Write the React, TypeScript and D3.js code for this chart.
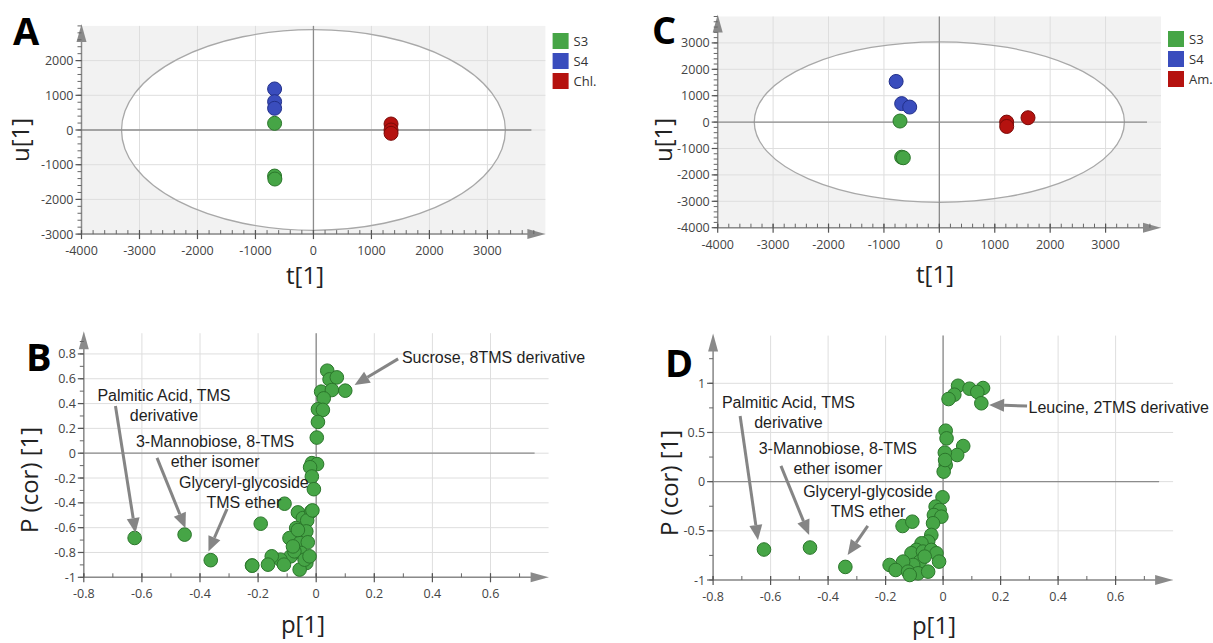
import React, { useEffect, useRef } from "react";
import * as d3 from "d3";

// ---- score plots: [t[1], u[1]] ----
const scoreA_S3 = [[-670, 192], [-670, -1327], [-665, -1413]];
const scoreA_S4 = [[-670, 1183], [-670, 817], [-670, 625]];
const scoreA_Chl = [[1338, 173], [1338, 0], [1338, -96]];

const scoreC_S3 = [[-710, 40], [-680, -1330], [-650, -1350]];
const scoreC_S4 = [[-780, 1540], [-680, 700], [-535, 570]];
const scoreC_Am = [[1215, 0], [1215, -165], [1600, 165]];

// hotelling ellipse radii [t, u]
const ellipseA = [3310, 2890];
const ellipseC = [3340, 3040];

// ---- S-plots: [p[1], P(cor)[1]] ----
const splotB = [
  [-0.625, -0.683], [-0.453, -0.656], [-0.363, -0.862], [-0.221, -0.905], [-0.191, -0.568],
  [-0.109, -0.407], [0.038, 0.665], [0.046, 0.595], [0.071, 0.611], [0.1, 0.504],
  [0.017, 0.496], [0.054, 0.509], [0.026, 0.442], [0.006, 0.354], [0.023, 0.349],
  [0.006, 0.252], [0.002, 0.126], [-0.015, -0.08], [0.003, -0.088], [-0.021, -0.113],
  [-0.015, -0.188], [-0.008, -0.29], [-0.063, -0.477], [-0.046, -0.523], [-0.017, -0.469],
  [-0.031, -0.542], [-0.013, -0.461], [-0.069, -0.603], [-0.034, -0.63], [-0.092, -0.684],
  [-0.057, -0.724], [-0.029, -0.718], [-0.034, -0.885], [-0.057, -0.938], [-0.088, -0.831],
  [-0.123, -0.858], [-0.153, -0.831], [-0.166, -0.898], [-0.111, -0.898], [-0.22, -0.906],
  [-0.052, -0.804], [-0.075, -0.791], [-0.04, -0.858], [-0.063, -0.619], [-0.08, -0.751],
  [-0.023, -0.831],
];

const splotD = [
  [-0.623, -0.69], [-0.463, -0.67], [-0.34, -0.867],
  [0.052, 0.975], [0.092, 0.945], [0.139, 0.952], [0.119, 0.912], [0.039, 0.884],
  [0.019, 0.84], [0.133, 0.797],
  [0.009, 0.518], [0.012, 0.44], [0.07, 0.362], [0.049, 0.271], [0.006, 0.295],
  [0.009, 0.169], [0.002, 0.102], [0.007, 0.22],
  [-0.002, -0.159], [-0.026, -0.254], [-0.012, -0.288], [-0.032, -0.339], [-0.006, -0.356],
  [-0.035, -0.423], [-0.141, -0.451], [-0.107, -0.407], [-0.041, -0.542], [-0.052, -0.61],
  [-0.075, -0.627], [-0.093, -0.694], [-0.11, -0.728], [-0.07, -0.711], [-0.041, -0.694],
  [-0.023, -0.728], [-0.014, -0.813], [-0.081, -0.813], [-0.104, -0.847], [-0.139, -0.813],
  [-0.186, -0.847], [-0.165, -0.898], [-0.122, -0.915], [-0.087, -0.932], [-0.052, -0.915],
  [-0.064, -0.762], [-0.116, -0.949],
];

// tick labels
const scoreTicks = [-4000, -3000, -2000, -1000, 0, 1000, 2000, 3000];
const scoreATicksY = [-3000, -2000, -1000, 0, 1000, 2000];
const splotTicksX = [-0.8, -0.6, -0.4, -0.2, 0, 0.2, 0.4, 0.6];
const splotBTicksY = [-1, -0.8, -0.6, -0.4, -0.2, 0, 0.2, 0.4, 0.6, 0.8];
const splotDTicksY = [-1, -0.5, 0, 0.5, 1];

// annotations: text anchor point + arrow tail/tip, all in data units
const notesB = [
  { lines: ["Sucrose, 8TMS derivative"], at: [0.295, 0.727], anchor: "start", from: [0.282, 0.76], to: [0.132, 0.55] },
  { lines: ["Palmitic Acid, TMS", "derivative"], at: [-0.524, 0.424], anchor: "middle", from: [-0.691, 0.381], to: [-0.622, -0.644] },
  { lines: ["3-Mannobiose, 8-TMS", "ether isomer"], at: [-0.348, 0.053], anchor: "middle", from: [-0.548, -0.038], to: [-0.45, -0.604] },
  { lines: ["Glyceryl-glycoside", "TMS ether"], at: [-0.249, -0.282], anchor: "middle", from: [-0.307, -0.448], to: [-0.371, -0.792] },
];
const notesD = [
  { lines: ["Leucine, 2TMS derivative"], at: [0.297, 0.695], anchor: "start", from: [0.292, 0.77], to: [0.16, 0.78] },
  { lines: ["Palmitic Acid, TMS", "derivative"], at: [-0.538, 0.746], anchor: "middle", from: [-0.706, 0.668], to: [-0.644, -0.593] },
  { lines: ["3-Mannobiose, 8-TMS", "ether isomer"], at: [-0.366, 0.282], anchor: "middle", from: [-0.564, 0.16], to: [-0.466, -0.542] },
  { lines: ["Glyceryl-glycoside", "TMS ether"], at: [-0.261, -0.153], anchor: "middle", from: [-0.262, -0.45], to: [-0.332, -0.745] },
];

const GREEN = { fill: "#46a546", stroke: "#2b762b" };
const BLUE = { fill: "#3a4dbd", stroke: "#22308a" };
const RED = { fill: "#b5120f", stroke: "#7a0a08" };
const TICK_FONT = "'Open Sans', sans-serif";
const NOTE_FONT = "'Liberation Sans', Arial, sans-serif";

const drawPanel = (svg, p) => {
  const { box } = p;
  const x = d3.scaleLinear().domain(p.xDomain).range([box.left, box.right]);
  const y = d3.scaleLinear().domain(p.yDomain).range([box.bottom, box.top]);
  const g = svg.append("g");

  if (p.ellipse) {
    g.append("rect")
      .attr("x", box.left).attr("y", box.top)
      .attr("width", box.right - box.left).attr("height", box.bottom - box.top)
      .attr("fill", "#f2f2f2");
    g.append("ellipse")
      .attr("cx", x(0)).attr("cy", y(0))
      .attr("rx", x(p.ellipse[0]) - x(0)).attr("ry", y(0) - y(p.ellipse[1]))
      .attr("fill", "#fff");
  }

  // grid
  g.selectAll(".gx").data(p.gridX).join("line")
    .attr("x1", (d) => x(d)).attr("x2", (d) => x(d))
    .attr("y1", box.top).attr("y2", box.bottom)
    .attr("stroke", "#dedede").attr("stroke-width", 1);
  g.selectAll(".gy").data(p.gridY).join("line")
    .attr("x1", box.left).attr("x2", box.right)
    .attr("y1", (d) => y(d)).attr("y2", (d) => y(d))
    .attr("stroke", "#dedede").attr("stroke-width", 1);

  if (p.ellipse) {
    g.append("ellipse")
      .attr("cx", x(0)).attr("cy", y(0))
      .attr("rx", x(p.ellipse[0]) - x(0)).attr("ry", y(0) - y(p.ellipse[1]))
      .attr("fill", "none").attr("stroke", "#a8a8a8").attr("stroke-width", 1.3);
  }

  // zero lines
  g.append("line").attr("x1", box.left).attr("x2", box.right - 14)
    .attr("y1", y(0)).attr("y2", y(0)).attr("stroke", "#8c8c8c").attr("stroke-width", 1.3);
  g.append("line").attr("x1", x(0)).attr("x2", x(0))
    .attr("y1", box.top).attr("y2", box.bottom).attr("stroke", "#8c8c8c").attr("stroke-width", 1.3);

  // axes
  const axisCol = "#8a8a8a";
  g.append("line").attr("x1", box.left).attr("x2", box.right - 14)
    .attr("y1", box.bottom).attr("y2", box.bottom).attr("stroke", axisCol).attr("stroke-width", 1.5);
  g.append("path")
    .attr("d", `M${box.right},${box.bottom}L${box.right - 18},${box.bottom - 5}L${box.right - 18},${box.bottom + 5}Z`)
    .attr("fill", axisCol);
  g.append("line").attr("x1", box.left).attr("x2", box.left)
    .attr("y1", box.bottom).attr("y2", box.top + 14).attr("stroke", axisCol).attr("stroke-width", 1.5);
  g.append("path")
    .attr("d", `M${box.left},${box.top - 2}L${box.left - 5},${box.top + 16}L${box.left + 5},${box.top + 16}Z`)
    .attr("fill", axisCol);

  // minor ticks
  g.selectAll(".mx").data(p.minorX).join("line")
    .attr("x1", (d) => x(d)).attr("x2", (d) => x(d))
    .attr("y1", box.bottom).attr("y2", box.bottom - 4)
    .attr("stroke", "#666").attr("stroke-width", 1);
  g.selectAll(".my").data(p.minorY).join("line")
    .attr("x1", box.left).attr("x2", box.left - 4)
    .attr("y1", (d) => y(d)).attr("y2", (d) => y(d))
    .attr("stroke", "#666").attr("stroke-width", 1);
  // major ticks
  g.selectAll(".tx").data(p.ticksX).join("line")
    .attr("x1", (d) => x(d)).attr("x2", (d) => x(d))
    .attr("y1", box.bottom - 4).attr("y2", box.bottom + 5)
    .attr("stroke", "#555").attr("stroke-width", 1.2);
  g.selectAll(".ty").data(p.ticksY).join("line")
    .attr("x1", box.left - 6).attr("x2", box.left)
    .attr("y1", (d) => y(d)).attr("y2", (d) => y(d))
    .attr("stroke", "#555").attr("stroke-width", 1.2);

  g.selectAll(".lx").data(p.ticksX).join("text")
    .attr("x", (d) => x(d)).attr("y", box.bottom + 21)
    .attr("text-anchor", "middle").attr("font-family", TICK_FONT).attr("font-size", 12.5)
    .attr("fill", "#444").text((d) => String(d));
  g.selectAll(".ly").data(p.ticksY).join("text")
    .attr("x", box.left - 8).attr("y", (d) => y(d) + 4.5)
    .attr("text-anchor", "end").attr("font-family", TICK_FONT).attr("font-size", 12.5)
    .attr("fill", "#444").text((d) => String(d));

  // points
  p.series.forEach((s) => {
    g.append("g").selectAll("circle").data(s.data).join("circle")
      .attr("cx", (d) => x(d[0])).attr("cy", (d) => y(d[1])).attr("r", p.r)
      .attr("fill", s.color.fill).attr("stroke", s.color.stroke).attr("stroke-width", 1);
  });

  // annotations
  (p.notes || []).forEach((n) => {
    const x1 = x(n.from[0]), y1 = y(n.from[1]), x2 = x(n.to[0]), y2 = y(n.to[1]);
    const ang = Math.atan2(y2 - y1, x2 - x1);
    const hl = 15, hw = 6.5;
    const bx = x2 - hl * Math.cos(ang), by = y2 - hl * Math.sin(ang);
    g.append("line").attr("x1", x1).attr("y1", y1).attr("x2", bx).attr("y2", by)
      .attr("stroke", "#858585").attr("stroke-width", 3);
    g.append("path")
      .attr("d", `M${x2},${y2}L${bx + hw * Math.sin(ang)},${by - hw * Math.cos(ang)}L${bx - hw * Math.sin(ang)},${by + hw * Math.cos(ang)}Z`)
      .attr("fill", "#858585");
    n.lines.forEach((line, i) => {
      g.append("text").attr("x", x(n.at[0])).attr("y", y(n.at[1]) + i * 20)
        .attr("text-anchor", n.anchor).attr("font-family", NOTE_FONT).attr("font-size", 16)
        .attr("fill", "#1e1e1e").text(line);
    });
  });

  // legend
  if (p.legend) {
    p.legend.items.forEach((it, i) => {
      const ly = p.legend.y + i * 20;
      g.append("rect").attr("x", p.legend.x).attr("y", ly).attr("width", 16).attr("height", 16)
        .attr("fill", it.color.fill);
      g.append("text").attr("x", p.legend.x + 21).attr("y", ly + 13)
        .attr("font-family", TICK_FONT).attr("font-size", 13).attr("fill", "#333").text(it.label);
    });
  }

  // titles
  g.append("text").attr("x", p.title.x).attr("y", p.title.y)
    .attr("font-family", "'Open Sans', sans-serif").attr("font-weight", 700).attr("font-size", 38)
    .attr("fill", "#000").text(p.title.text);
  g.append("text").attr("x", p.xLabel.x).attr("y", p.xLabel.y).attr("text-anchor", "middle")
    .attr("font-family", TICK_FONT).attr("font-size", 24).attr("fill", "#222").text(p.xLabel.text);
  g.append("text")
    .attr("transform", `translate(${p.yLabel.x},${p.yLabel.y}) rotate(-90)`)
    .attr("text-anchor", "middle")
    .attr("font-family", TICK_FONT).attr("font-size", p.yLabel.size).attr("fill", "#222").text(p.yLabel.text);
};

const steps = (a, b, s) => d3.range(Math.round((b - a) / s) + 1).map((i) => +(a + i * s).toFixed(4));

export default function App() {
  const ref = useRef(null);

  useEffect(() => {
    const svg = d3.select(ref.current);
    svg.selectAll("*").remove();

    drawPanel(svg, {
      box: { left: 81.5, right: 545.4, top: 25.9, bottom: 234.1 },
      xDomain: [-4000, 4000], yDomain: [-3000, 3000],
      ellipse: ellipseA, r: 7,
      gridX: scoreTicks, gridY: scoreATicksY,
      ticksX: scoreTicks, ticksY: scoreATicksY,
      minorX: steps(-4000, 3800, 200), minorY: steps(-3000, 3000, 200),
      series: [{ data: scoreA_S4, color: BLUE }, { data: scoreA_S3, color: GREEN }, { data: scoreA_Chl, color: RED }],
      legend: { x: 552.6, y: 33, items: [{ label: "S3", color: GREEN }, { label: "S4", color: BLUE }, { label: "Chl.", color: RED }] },
      title: { text: "A", x: 13, y: 45 },
      xLabel: { text: "t[1]", x: 305, y: 284 },
      yLabel: { text: "u[1]", x: 29, y: 140, size: 24 },
    });

    drawPanel(svg, {
      box: { left: 717.7, right: 1161, top: 16.5, bottom: 227.7 },
      xDomain: [-4000, 4000], yDomain: [-4000, 4000],
      ellipse: ellipseC, r: 7,
      gridX: scoreTicks, gridY: scoreTicks,
      ticksX: scoreTicks, ticksY: scoreTicks,
      minorX: steps(-4000, 3800, 200), minorY: steps(-4000, 4000, 200),
      series: [{ data: scoreC_S4, color: BLUE }, { data: scoreC_S3, color: GREEN }, { data: scoreC_Am, color: RED }],
      legend: { x: 1168, y: 31, items: [{ label: "S3", color: GREEN }, { label: "S4", color: BLUE }, { label: "Am.", color: RED }] },
      title: { text: "C", x: 652, y: 44 },
      xLabel: { text: "t[1]", x: 935, y: 283 },
      yLabel: { text: "u[1]", x: 672, y: 140, size: 24 },
    });

    drawPanel(svg, {
      box: { left: 83.8, right: 548.6, top: 333.2, bottom: 577.3 },
      xDomain: [-0.8, 0.8], yDomain: [-1, 0.967],
      r: 6.8,
      gridX: splotTicksX, gridY: splotBTicksY,
      ticksX: splotTicksX, ticksY: splotBTicksY,
      minorX: steps(-0.8, 0.7, 0.1), minorY: steps(-1, 0.9, 0.1),
      series: [{ data: splotB, color: GREEN }],
      notes: notesB,
      title: { text: "B", x: 26, y: 371 },
      xLabel: { text: "p[1]", x: 303, y: 633 },
      yLabel: { text: "P (cor) [1]", x: 38, y: 480, size: 24 },
    });

    drawPanel(svg, {
      box: { left: 713.1, right: 1173.1, top: 335.6, bottom: 580 },
      xDomain: [-0.8, 0.8], yDomain: [-1, 1.485],
      r: 6.8,
      gridX: splotTicksX, gridY: splotDTicksY,
      ticksX: splotTicksX, ticksY: splotDTicksY,
      minorX: steps(-0.8, 0.7, 0.1), minorY: steps(-1, 1.25, 0.25),
      series: [{ data: splotD, color: GREEN }],
      notes: notesD,
      title: { text: "D", x: 665, y: 377 },
      xLabel: { text: "p[1]", x: 934, y: 634 },
      yLabel: { text: "P (cor) [1]", x: 678, y: 483, size: 24 },
    });
  }, []);

  return (
    <div style={{ position: "fixed", left: 0, top: 0 }}>
      <svg ref={ref} width={1213} height={643} style={{ display: "block", background: "#fff" }}></svg>
    </div>
  );
}
